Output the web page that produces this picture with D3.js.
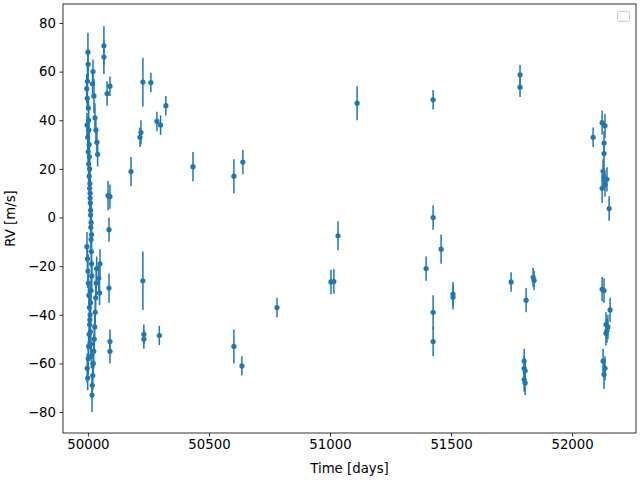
<!DOCTYPE html>
<html>
<head>
<meta charset="utf-8">
<script src="https://cdn.jsdelivr.net/npm/d3@7"></script>
<style>
body { margin: 0; background: #fff; }
text { font-family: "DejaVu Sans", sans-serif; }
</style>
</head>
<body>
<svg width="640" height="480"></svg>
<script>
var times = [
  49995, 49997, 49998, 50000, 50001, 50002, 50003, 50004, 50005, 50006,
  50007, 50008, 50009, 50010, 50011, 50012, 50013, 50014, 50015, 50016,
  49996, 49999, 50001, 50003, 50005, 50007, 50009, 50011, 50013, 50015,
  49996, 49998, 50000, 50002, 50004, 50006, 50008, 50010, 50012, 50014,
  49997, 49999, 50001, 50003, 50005, 50007, 50009, 50011, 50013, 50017,
  50018, 50020, 50022, 50024, 50026, 50028, 50030, 50032, 50034, 50036,
  50019, 50021, 50025, 50029, 50033, 50037, 50040, 50045, 50048, 50050,
  50066, 50066, 50079, 50091, 50083, 50091, 50087, 50087, 50091, 50091,
  50178, 50215, 50219, 50227, 50227, 50231, 50231, 50260, 50285, 50300,
  50322, 50295, 50434, 50603, 50640, 50603, 50636, 50781, 51004, 51016,
  51033, 51112, 51397, 51426, 51426, 51426, 51426, 51459, 51508, 51508,
  51748, 51785, 51785, 51802, 51802, 51806, 51802, 51806, 51810, 51839,
  51843, 52087, 52124, 52124, 52136, 52132, 52132, 52128, 52132, 52136,
  52144, 52153, 52124, 52132, 52128, 52136, 52132, 52140, 52144, 52148,
  52157, 52140
];
var rv = [
  53, 49, 56, 68, 63, 45, 40, 36, 30, 25,
  20, 14, 10, 6, 1, -4, -9, -14, -19, -24,
  38, 33, 27, 22, 17, 12, 8, 3, -2, -7,
  -12, -17, -22, -27, -32, -37, -42, -47, -52, -57,
  -62, -66, -58, -53, -48, -44, -40, -35, -30, -73,
  -69, -65, -60, -55, -50, -45, -39, -33, -27, -21,
  55, 60, 50, 41, 36, 31, 26, -25, -31, -19,
  70.6, 66, 51, 54, 9, 8.6, -5, -29, -51, -55,
  18.9, 33, 35, 55.7, -26, -48, -50, 55.5, 39.5, 38,
  46, -48.5, 20.9, 17, 22.8, -53, -61, -37, -26.5, -26.3,
  -7.5, 47, -21, 48.4, 0, -39, -51, -13, -31.5, -32.8,
  -26.5, 58.7, 53.6, -59, -62, -63, -66.6, -68, -34, -24.6,
  -25.9, 33, 39, 12, 37.7, 30.6, 26.3, 19, 16.5, 13.5,
  15.7, 3.7, -29.5, -30, -59, -62, -64.5, -44, -46.5, -45,
  -38, -47.6
];
var err = [
  6, 5, 7, 8, 6, 5, 6, 5, 7, 6,
  5, 6, 7, 5, 6, 5, 6, 7, 5, 6,
  5, 6, 5, 7, 6, 5, 6, 5, 7, 6,
  6, 5, 7, 6, 5, 6, 7, 5, 6, 5,
  6, 5, 7, 6, 5, 6, 5, 7, 6, 7,
  5, 6, 5, 7, 6, 5, 6, 5, 6, 5,
  6, 5, 7, 6, 5, 6, 5, 6, 5, 6,
  8, 7, 5, 4, 6, 5, 5, 6, 5, 5,
  6, 4, 5, 10, 12, 4, 4, 4, 4, 4,
  4, 4, 6, 7, 5, 7, 4, 4, 5, 5,
  6, 7, 5, 4, 5, 7, 6, 6, 5, 5,
  4, 4, 4, 5, 5, 5, 5, 5, 5, 4,
  4, 4, 5, 6, 5, 5, 5, 5, 5, 5,
  5, 5, 5, 5, 5, 5, 6, 5, 5, 5,
  5, 5
];
var xTicks = [50000, 50500, 51000, 51500, 52000];
var yTicks = [-80, -60, -40, -20, 0, 20, 40, 60, 80];

var svg = d3.select('svg');
var mLeft = 63, mRight = 636, mTop = 4, mBottom = 433;
var col = '#1f77b4';

var x = d3.scaleLinear().domain([49897, 52264]).range([mLeft, mRight]);
var y = d3.scaleLinear().domain([-88.6, 87.8]).range([mBottom, mTop]);

var data = times.map(function(t, i) { return {t: t, v: rv[i], e: err[i]}; });

// error bars
svg.append('g').selectAll('line')
  .data(data).enter().append('line')
  .attr('x1', function(d) { return x(d.t); })
  .attr('x2', function(d) { return x(d.t); })
  .attr('y1', function(d) { return y(d.v - d.e); })
  .attr('y2', function(d) { return y(d.v + d.e); })
  .style('stroke', col).style('stroke-width', 1.5);

svg.append('g').selectAll('circle')
  .data(data).enter().append('circle')
  .attr('cx', function(d) { return x(d.t); })
  .attr('cy', function(d) { return y(d.v); })
  .attr('r', 2.6).style('fill', col);

// axes
var xa = svg.append('g').attr('transform', 'translate(0,' + mBottom + ')')
  .call(d3.axisBottom(x).tickValues(xTicks).tickFormat(d3.format('d')).tickSizeOuter(0).tickSize(3.5).tickPadding(3.5));
var ya = svg.append('g').attr('transform', 'translate(' + mLeft + ',0)')
  .call(d3.axisLeft(y).tickValues(yTicks).tickFormat(d3.format('d')).tickSizeOuter(0).tickSize(3.5).tickPadding(3.5));
[xa, ya].forEach(function(a) {
  a.select('.domain').remove();
  a.selectAll('text').style('font-size', '13.3px').style('fill', '#000')
    .style('font-family', '"DejaVu Sans", sans-serif');
  a.selectAll('line').style('stroke', '#000').style('stroke-width', 0.8);
});
ya.selectAll('text').text(function(d) { return d < 0 ? '\u2212' + (-d) : d; });

svg.append('rect').attr('x', mLeft).attr('y', mTop)
  .attr('width', mRight - mLeft).attr('height', mBottom - mTop)
  .style('fill', 'none').style('stroke', '#000').style('stroke-width', 0.8);

svg.append('text').attr('x', (mLeft + mRight) / 2).attr('y', 473)
  .attr('text-anchor', 'middle').style('font-size', '13.3px').text('Time [days]');
svg.append('text').attr('transform', 'translate(15,' + (mTop + mBottom) / 2 + ') rotate(-90)')
  .attr('text-anchor', 'middle').style('font-size', '13.3px').text('RV [m/s]');

// empty legend box
svg.append('rect').attr('x', 617.5).attr('y', 11.5).attr('width', 12).attr('height', 10)
  .attr('rx', 2).style('fill', '#fff').style('stroke', '#ccc').style('stroke-width', 1);
</script>
</body>
</html>
